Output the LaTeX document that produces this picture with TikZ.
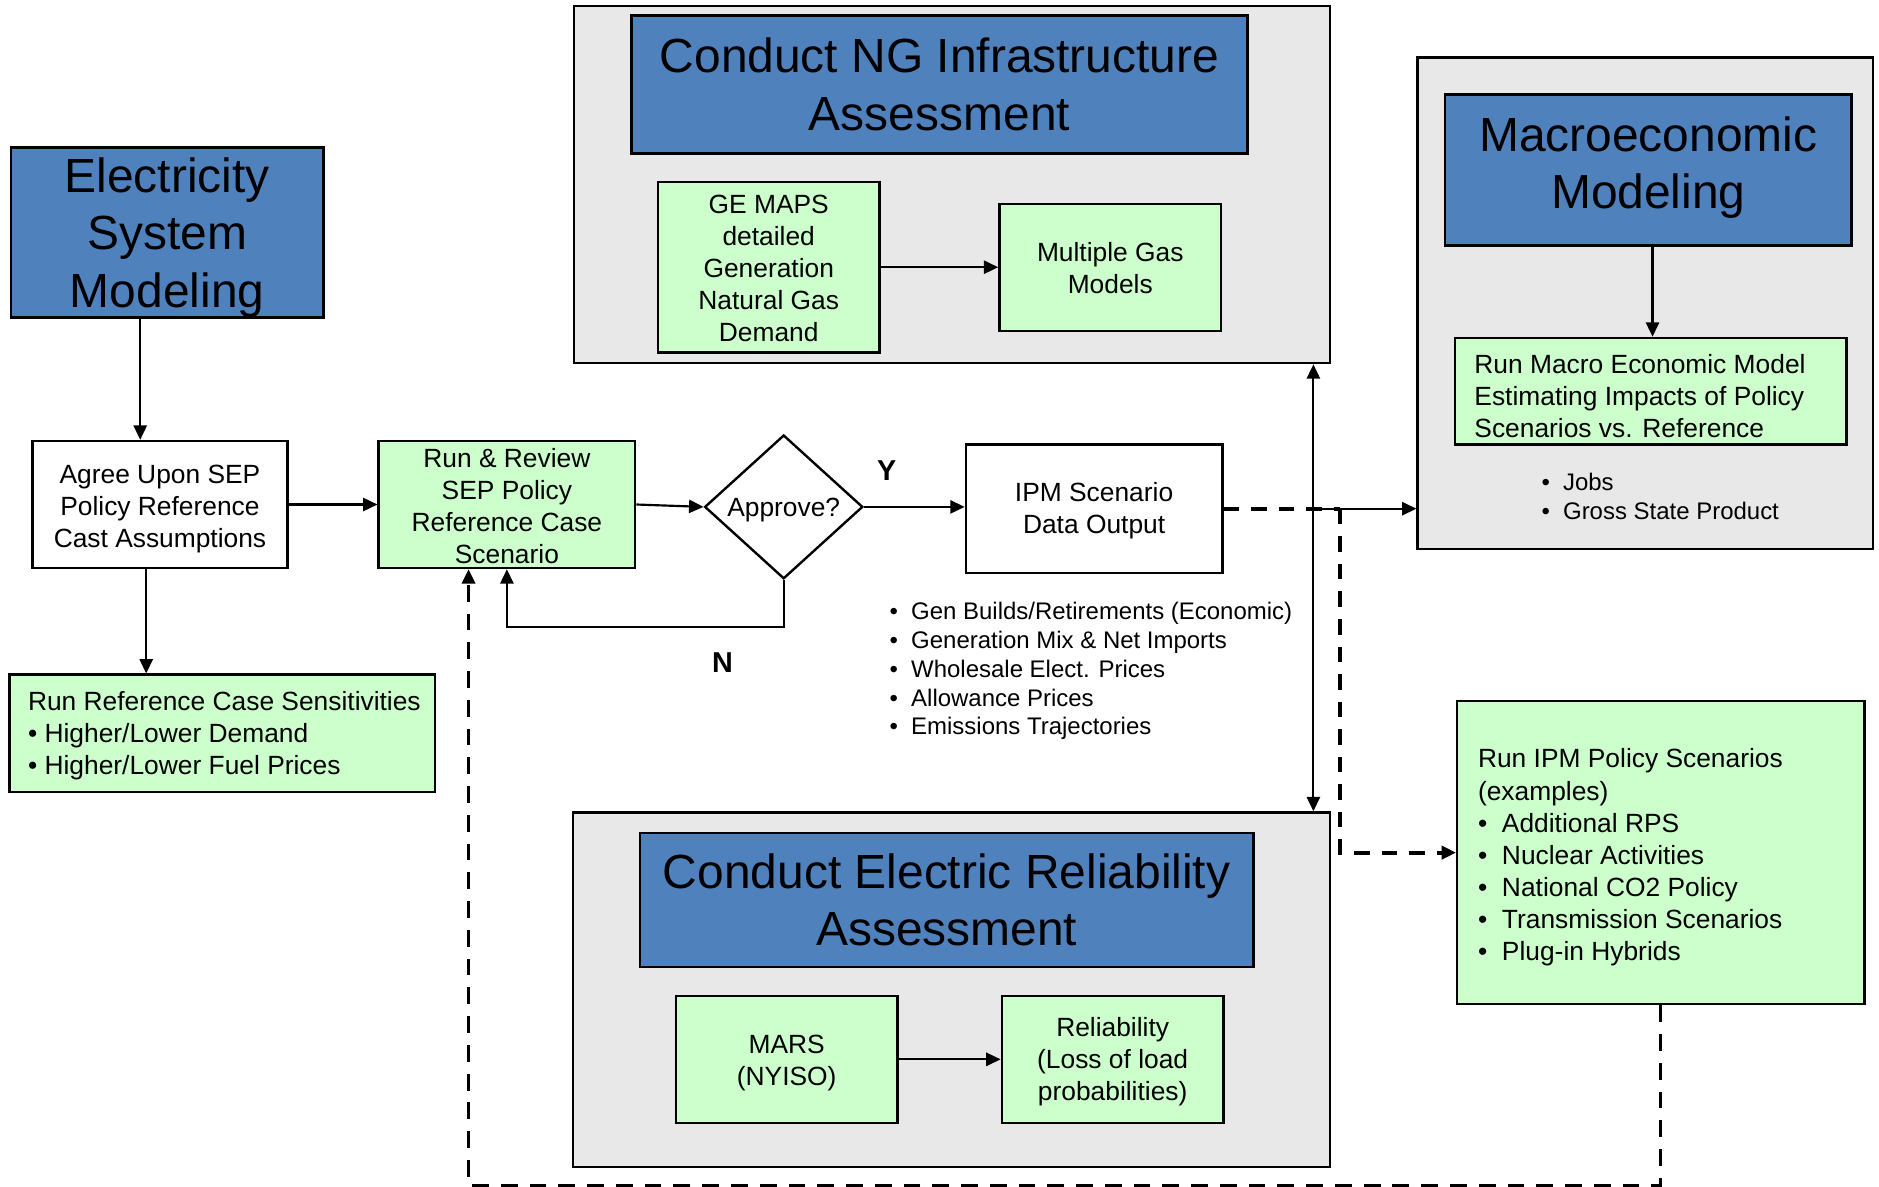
\documentclass[tikz,border=0pt]{standalone}
\usepackage{fontspec}
\setmainfont{Liberation Sans}
\usetikzlibrary{arrows.meta,shapes.geometric}
\definecolor{hblue}{HTML}{4F81BD}
\definecolor{lgreen}{HTML}{CCFFCC}
\definecolor{lgray}{HTML}{E8E8E8}
\newcommand{\bodyfnt}{\fontsize{11pt}{13.4pt}\selectfont}
\newcommand{\smallfnt}{\fontsize{10pt}{12pt}\selectfont}
\newcommand{\headfnt}{\fontsize{20pt}{24pt}\selectfont}
\newcommand{\yfnt}{\fontsize{12pt}{14pt}\selectfont\bfseries}
\newcommand{\bl}[1]{\makebox[#1][l]{\textbullet}}
\begin{document}
\begin{tikzpicture}[x=0.5pt,y=-0.5pt,
  base/.style={draw=black, line width=1pt, inner sep=0pt, align=center, rectangle},
  outerbox/.style={base, fill=lgray},
  titlebox/.style={base, fill=hblue, font=\headfnt},
  gbox/.style={base, fill=lgreen, font=\bodyfnt},
  wbox/.style={base, fill=white, font=\bodyfnt},
  txt/.style={font=\bodyfnt, align=center, inner sep=0pt},
  htxt/.style={font=\headfnt, align=center, inner sep=0pt},
  lbl/.style={font=\bodyfnt, align=left, inner sep=0pt, anchor=west},
  arr/.style={line width=0.9pt, -{Triangle[length=6pt,width=5.5pt]}},
  dline/.style={line width=1.6pt, dash pattern=on 6.5pt off 5pt},
  darr/.style={dline, -{Triangle[length=6pt,width=5.5pt]}},
  darrb/.style={line width=1.2pt, dash pattern=on 7pt off 5pt, -{Triangle[length=6pt,width=5.5pt]}}]
\useasboundingbox (0,0) rectangle (1568,990);

% NG infrastructure group
\node[outerbox, minimum width=315.5pt, minimum height=149pt] (NG) at (794.5,154) {};
\node[titlebox, minimum width=257pt, minimum height=57.5pt] (NGT) at (784,70.5) {Conduct NG Infrastructure\\Assessment};
\node[gbox, minimum width=92.5pt, minimum height=71pt] (GE) at (641.5,223) {};
\node[txt] (GEt) at (641.5,224) {GE MAPS\\detailed\\Generation\\Natural Gas\\Demand};
\node[gbox, minimum width=92.5pt, minimum height=53pt] (MG) at (926.5,223) {};
\node[txt] (MGt) at (926.5,224) {Multiple Gas\\Models};

% Macroeconomic group
\node[outerbox, minimum width=190pt, minimum height=205pt] (Macro) at (1373,253) {};
\node[titlebox, minimum width=169.5pt, minimum height=63pt] (MT) at (1375.5,142) {};
\node[htxt] (MTt) at (1375.5,140) {Macroeconomic\\Modeling};
\node[gbox, minimum width=163.5pt, minimum height=44.5pt] (RM) at (1377.5,326.5) {};
\node[lbl] (RMt) at (1230,330.5) {Run Macro Economic Model\\Estimating Impacts of Policy\\Scenarios vs. Reference};
\node[lbl, font=\smallfnt] (JB) at (1286,414) {\bl{9pt}Jobs\\\bl{9pt}Gross State Product};

% Left column
\node[titlebox, minimum width=130.5pt, minimum height=71pt] (ESM) at (139.5,194) {};
\node[htxt] (ESMt) at (139.5,198) {Electricity\\System\\Modeling};
\node[wbox, minimum width=106.5pt, minimum height=53pt] (AG) at (133.5,421) {};
\node[txt] (AGt) at (133.5,424.5) {Agree Upon SEP\\Policy Reference\\Cast Assumptions};
\node[gbox, minimum width=177.5pt, minimum height=49pt] (SN) at (185.5,612) {};
\node[lbl] (SNt) at (23,614) {Run Reference Case Sensitivities\\\textbullet\ Higher/Lower Demand\\\textbullet\ Higher/Lower Fuel Prices};

% Middle row
\node[gbox, minimum width=107pt, minimum height=53pt] (RR) at (423,421) {};
\node[txt] (RRt) at (423,422.5) {Run \& Review\\SEP Policy\\Reference Case\\Scenario};
\node[draw=black, line width=1pt, shape=diamond, minimum width=66pt, minimum height=60pt, inner sep=0pt, fill=white] (DI) at (654,423) {};
\node[txt] (DIt) at (654,426) {Approve?};
\node[wbox, minimum width=107pt, minimum height=53.5pt] (IPM) at (913,424.5) {};
\node[txt] (IPMt) at (913,426.5) {IPM Scenario\\Data Output};
\node[font=\yfnt, inner sep=0pt] (Y) at (740,393) {Y};
\node[font=\yfnt, inner sep=0pt] (N) at (603,553) {N};
\node[lbl, font=\smallfnt] (OUT) at (742,560) {\bl{9pt}Gen Builds/Retirements (Economic)\\\bl{9pt}Generation Mix \& Net Imports\\\bl{9pt}Wholesale Elect. Prices\\\bl{9pt}Allowance Prices\\\bl{9pt}Emissions Trajectories};

% Policy scenarios
\node[gbox, minimum width=170pt, minimum height=126.5pt] (PO) at (1386,711.5) {};
\node[lbl] (POt) at (1233,715.5) {Run IPM Policy Scenarios\\(examples)\\\bl{10pt}Additional RPS\\\bl{10pt}Nuclear Activities\\\bl{10pt}National CO2 Policy\\\bl{10pt}Transmission Scenarios\\\bl{10pt}Plug-in Hybrids};

% Reliability group
\node[outerbox, minimum width=316pt, minimum height=148pt] (RL) at (794,826) {};
\node[titlebox, minimum width=256pt, minimum height=56pt] (RT) at (790,751) {Conduct Electric Reliability\\Assessment};
\node[gbox, minimum width=92.5pt, minimum height=53pt] (MA) at (656.5,884) {};
\node[txt] (MAt) at (656.5,887) {MARS\\(NYISO)};
\node[gbox, minimum width=92.5pt, minimum height=53pt] (RB) at (928.5,884) {};
\node[txt] (RBt) at (928.5,886) {Reliability\\(Loss of load\\probabilities)};

% Connectors
\draw[arr] ([xshift=-11.25pt]ESM.south) -- ([xshift=-11.25pt]ESM.south |- AG.north);
\draw[arr] ([xshift=-5.75pt]AG.south) -- ([xshift=-5.75pt]AG.south |- SN.north);
\draw[arr] (AG.east) -- (RR.west);
\draw[arr] (RR.east) -- (DI.west);
\draw[arr] (DI.east) -- (DI.east -| IPM.west);
\draw[arr] (DI.south) -- ++(0,39) -| (RR.south);
\coordinate (J) at (1096,424.5);
\coordinate (K) at (1118,424.5);
\draw[dline] (IPM.east) -- (K);
\draw[arr] (J) -- (J |- NG.south);
\draw[arr] (J) -- (J |- RL.north);
\draw[arr] (J) -- (J -| Macro.west);
\draw[darr] (K) -- (K |- PO.west) -- (PO.west);
\draw[darrb] (PO.south) -- ++(0,150) -| ([xshift=-16pt]RR.south);
\draw[arr] (GE.east) -- (MG.west);
\draw[arr] (MA.east) -- (RB.west);
\draw[arr] ([xshift=1.75pt]MT.south) -- ([xshift=1.75pt]MT.south |- RM.north);
\end{tikzpicture}
\end{document}
